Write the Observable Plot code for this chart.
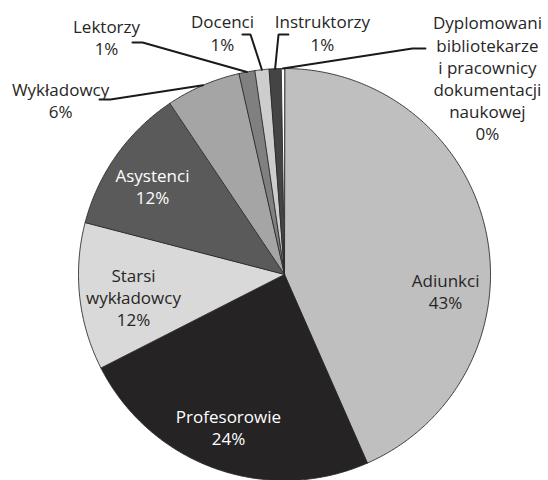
<!DOCTYPE html>
<html>
<head>
<meta charset="utf-8">
<script src="https://cdn.jsdelivr.net/npm/d3@7"></script>
<script src="https://cdn.jsdelivr.net/npm/@observablehq/plot@0.6"></script>
<style>
  html, body { margin: 0; padding: 0; background: #ffffff; }
  #chart svg { display: block; }
</style>
</head>
<body>
<div id="chart"></div>
<script>
// ---- data (clockwise from 12 o'clock) ----
const categories = [
  "Adiunkci",
  "Profesorowie",
  "Starsi\nwykładowcy",
  "Asystenci",
  "Wykładowcy",
  "Lektorzy",
  "Docenci",
  "Instruktorzy",
  "Dyplomowani\nbibliotekarze\ni pracownicy\ndokumentacji\nnaukowej"
];
const shares = [43.4, 24.1, 11.55, 11.55, 5.85, 1.25, 1.1, 0.95, 0.25];

// ---- styles ----
const sliceColors = ["#bfbfbf", "#252324", "#d9d9d9", "#5a5a5a", "#a5a5a5", "#808080", "#cdcdcd", "#444444", "#ffffff"];
const labelColors = ["#262626", "#ffffff", "#262626", "#ffffff", "#262626", "#262626", "#262626", "#262626", "#262626"];

// ---- layout (pie units: radius = 1, centre = 0,0) ----
const labelPos = [
  [0.782, -0.078], [-0.272, -0.738], [-0.733, -0.107], [-0.641, 0.432],
  [-1.087, 0.847], [-0.864, 1.153], [-0.301, 1.175], [0.184, 1.175], [0.985, 0.956]
];
const leaderStarts = [null, null, null, null,
  [[-0.898, 0.850], [-0.845, 0.850]],
  [[-0.738, 1.126], [-0.689, 1.126]],
  [[-0.204, 1.165], [-0.165, 1.165]],
  [[0.019, 1.165], [-0.029, 1.165]],
  [[0.684, 1.097], [0.621, 1.097]]
];

const W = 548, H = 480, cx = 284, cy = 274, R = 206;

const total = d3.sum(shares);
const cum = d3.cumsum(shares);
const slices = shares.map((v, i) => {
  const a0 = 2 * Math.PI * (cum[i] - v) / total;
  const a1 = 2 * Math.PI * cum[i] / total;
  return {i, a0, a1, mid: (a0 + a1) / 2};
});

function slicePoints(s) {
  const n = Math.max(2, Math.ceil((s.a1 - s.a0) / (Math.PI / 360)));
  const pts = [{x: 0, y: 0}];
  for (let k = 0; k <= n; k++) {
    const a = s.a0 + (s.a1 - s.a0) * k / n;
    pts.push({x: Math.sin(a), y: Math.cos(a)});
  }
  return pts;
}

const sliceMarks = slices.map(s => Plot.line(slicePoints(s), {
  x: "x", y: "y", curve: "linear-closed",
  fill: sliceColors[s.i], stroke: "#2a2a2a", strokeWidth: 0.9, strokeLinejoin: "round"
}));

const leaderMarks = slices.filter(s => leaderStarts[s.i]).map(s => {
  const pts = leaderStarts[s.i].map(([x, y]) => ({x, y}));
  pts.push({x: Math.sin(s.mid), y: Math.cos(s.mid)});
  return Plot.line(pts, {x: "x", y: "y", stroke: "#1a1a1a", strokeWidth: 2, strokeLinejoin: "miter"});
});

const labels = categories.map((c, i) => ({
  x: labelPos[i][0], y: labelPos[i][1],
  text: c + "\n" + Math.round(shares[i]) + "%",
  color: labelColors[i]
}));

const chart = Plot.plot({
  width: W, height: H, margin: 0,
  style: {background: "#ffffff"},
  x: {domain: [-cx / R, (W - cx) / R], axis: null},
  y: {domain: [-(H - cy) / R, cy / R], axis: null},
  color: {type: "identity"},
  marks: [
    ...sliceMarks,
    ...leaderMarks,
    Plot.text(labels, {
      x: "x", y: "y", text: "text", fill: "color",
      fontFamily: "Open Sans", fontSize: 17, lineHeight: 1.3,
      textAnchor: "middle", lineAnchor: "middle"
    })
  ]
});
document.getElementById("chart").appendChild(chart);
</script>
</body>
</html>
